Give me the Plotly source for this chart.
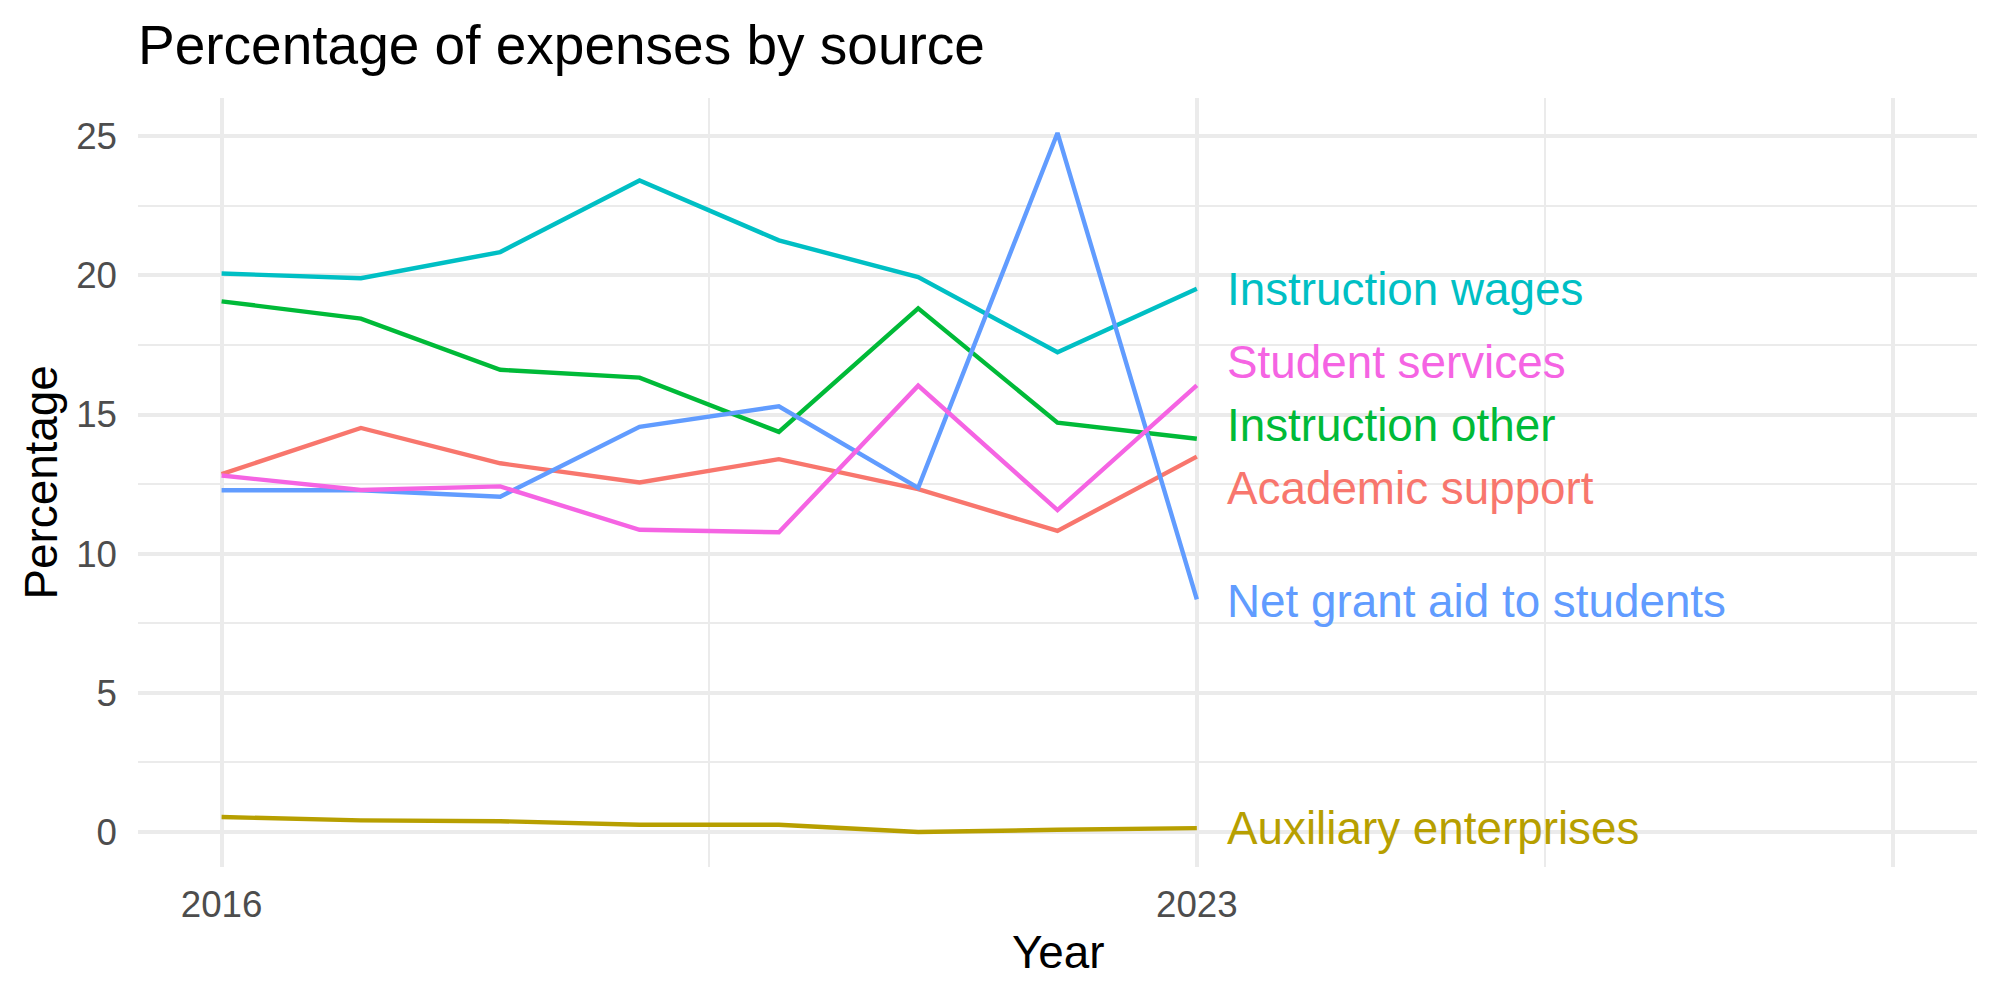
import plotly.graph_objects as go

years = [2016, 2017, 2018, 2019, 2020, 2021, 2022, 2023]

series_names = [
    "Academic support",
    "Auxiliary enterprises",
    "Instruction other",
    "Instruction wages",
    "Net grant aid to students",
    "Student services",
]

academic_support = [12.86, 14.52, 13.25, 12.56, 13.40, 12.32, 10.82, 13.49]
auxiliary_enterprises = [0.54, 0.42, 0.39, 0.26, 0.26, 0.0, 0.08, 0.14]
instruction_other = [19.07, 18.45, 16.61, 16.33, 14.38, 18.82, 14.71, 14.13]
instruction_wages = [20.07, 19.90, 20.84, 23.41, 21.26, 19.94, 17.24, 19.52]
net_grant_aid = [12.28, 12.28, 12.05, 14.56, 15.30, 12.37, 25.12, 8.36]
student_services = [12.81, 12.29, 12.42, 10.86, 10.77, 16.04, 11.57, 16.05]

# label y positions after repelling
label_y = [12.35, 0.11, 14.62, 19.5, 8.29, 16.88]
label_x = 2023.2

colors = ["#F8766D", "#B79F00", "#00BA38", "#00BFC4", "#619CFF", "#F564E3"]

values = [academic_support, auxiliary_enterprises, instruction_other,
          instruction_wages, net_grant_aid, student_services]

x_ticks = [2016, 2023, 2028]
x_ticktext = ["2016", "2023", ""]
x_minor = [2019.5, 2025.5]
y_ticks = [0, 5, 10, 15, 20, 25]
y_minor = [2.5, 7.5, 12.5, 17.5, 22.5]

FONT = "Liberation Sans, Arial, Helvetica, sans-serif"

fig = go.Figure()
for name, vals, col in zip(series_names, values, colors):
    fig.add_trace(go.Scatter(
        x=years, y=vals, mode="lines", name=name,
        line=dict(color=col, width=4.4),
        showlegend=False,
    ))

for name, ly, col in zip(series_names, label_y, colors):
    fig.add_annotation(
        x=label_x, y=ly, xref="x", yref="y", text=name,
        showarrow=False, xanchor="left", yanchor="middle",
        font=dict(family=FONT, size=45.8, color=col),
    )

L, R, T, B = 138, 23, 98, 133
W, H = 2000, 1000
pw = W - L - R
ph = H - T - B

# axis titles
fig.add_annotation(
    x=(1058 - L) / pw, y=(H - B - 952) / ph, xref="paper", yref="paper",
    text="Year", showarrow=False, xanchor="center", yanchor="middle",
    font=dict(family=FONT, size=45.8, color="black"),
)
fig.add_annotation(
    x=(41 - L) / pw, y=0.5, xref="paper", yref="paper",
    text="Percentage", showarrow=False, xanchor="center", yanchor="middle",
    textangle=-90,
    font=dict(family=FONT, size=45.8, color="black"),
)

fig.update_layout(
    width=W, height=H,
    margin=dict(l=L, r=R, t=T, b=B, pad=0),
    paper_bgcolor="white", plot_bgcolor="white",
    font=dict(family=FONT),
    title=dict(
        text="Percentage of expenses by source",
        x=0, xref="paper", xanchor="left",
        y=1 - 45 / H, yref="container", yanchor="middle",
        font=dict(family=FONT, size=55, color="black"),
    ),
    showlegend=False,
)

fig.update_xaxes(
    range=[2015.4, 2028.6],
    tickmode="array", tickvals=x_ticks, ticktext=x_ticktext,
    showgrid=True, gridcolor="#EBEBEB", gridwidth=4.4,
    minor=dict(tickvals=x_minor, showgrid=True, gridcolor="#EBEBEB", gridwidth=2.2, ticks=""),
    zeroline=False, showline=False, ticks="",
    ticklabelstandoff=12,
    tickfont=dict(family=FONT, size=36.7, color="#4D4D4D"),
)
fig.update_yaxes(
    range=[-1.256, 26.376],
    tickmode="array", tickvals=y_ticks,
    showgrid=True, gridcolor="#EBEBEB", gridwidth=4.4,
    minor=dict(tickvals=y_minor, showgrid=True, gridcolor="#EBEBEB", gridwidth=2.2, ticks=""),
    zeroline=False, showline=False, ticks="",
    ticklabelstandoff=20,
    tickfont=dict(family=FONT, size=36.7, color="#4D4D4D"),
)

fig.write_html("out.html")
